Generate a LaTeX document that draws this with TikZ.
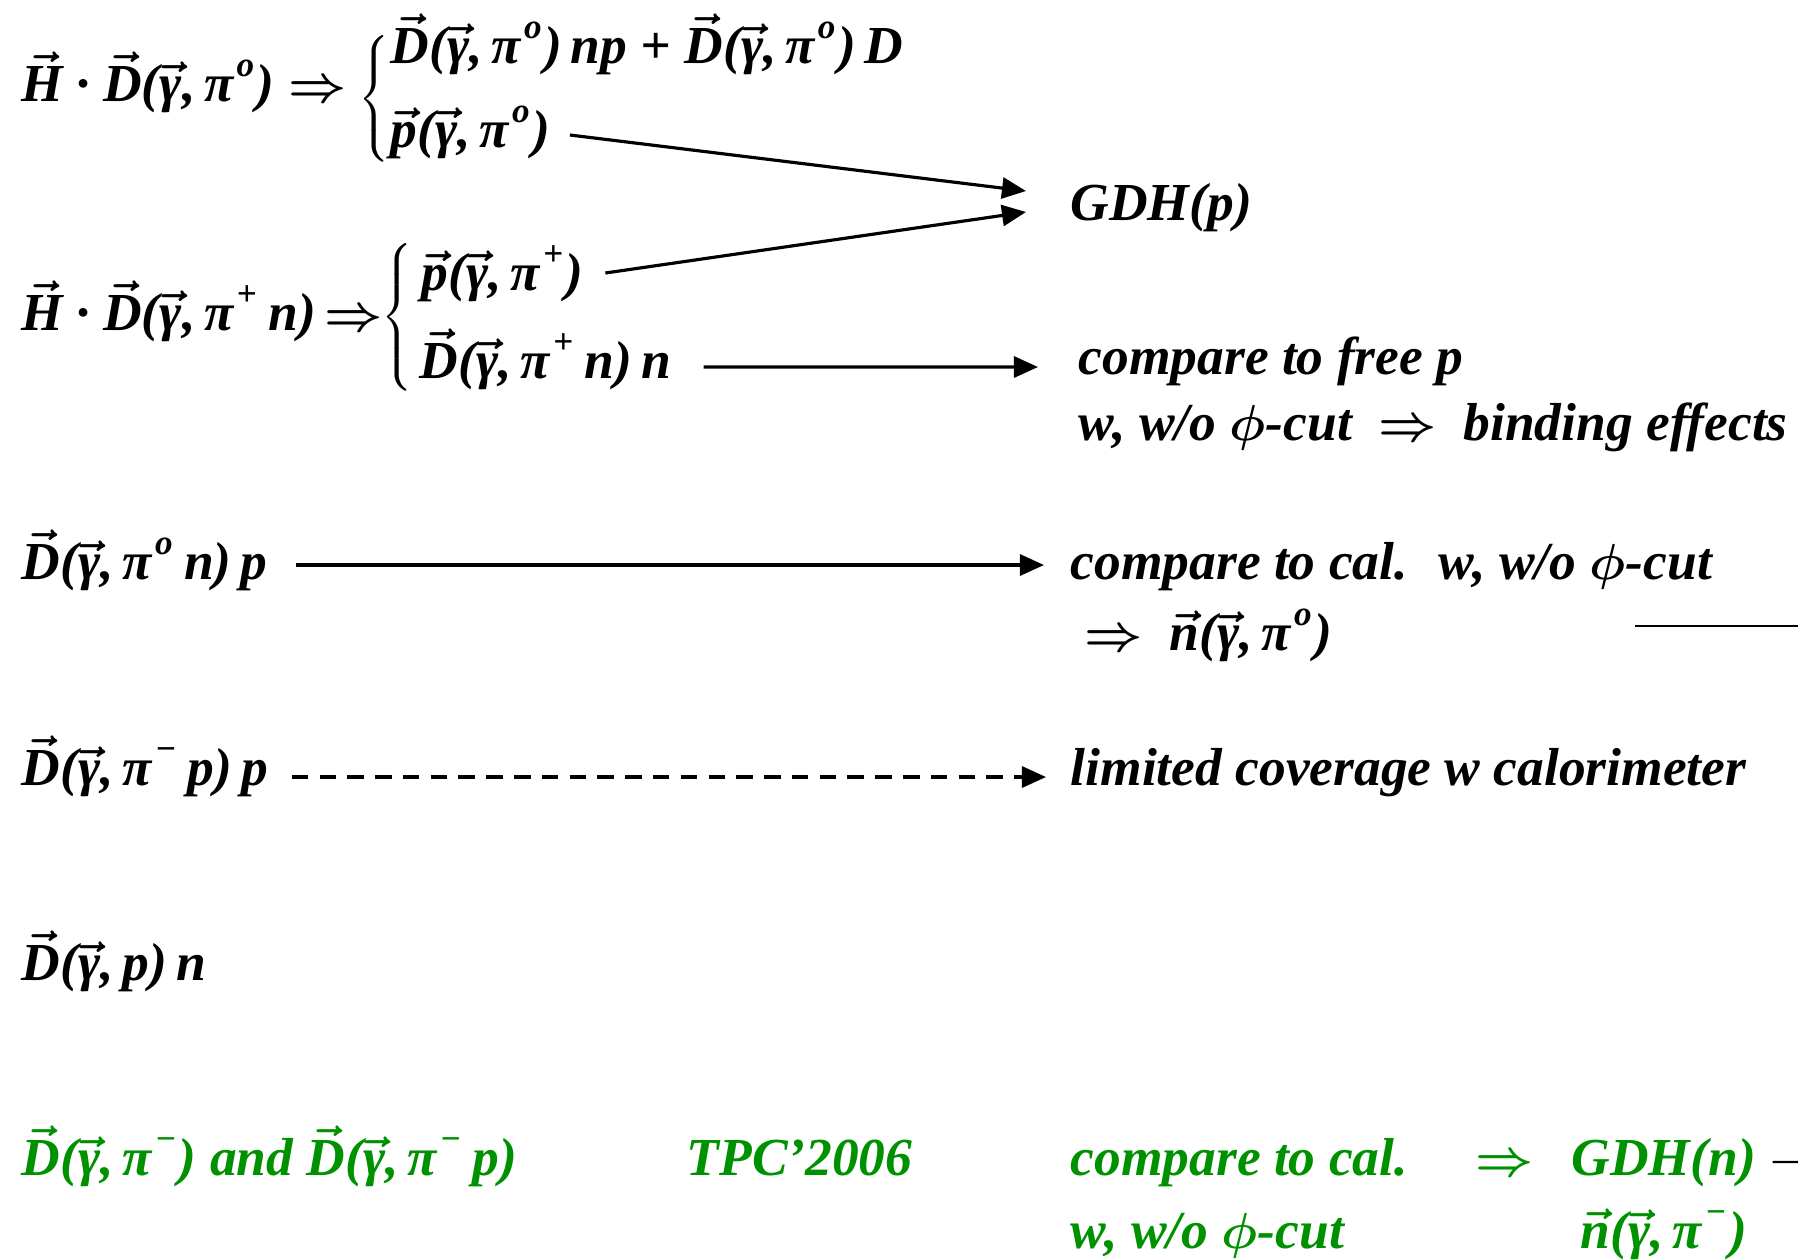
\documentclass[tikz,border=0pt]{standalone}
\usepackage{fontspec}
\setmainfont{Liberation Serif}
\usetikzlibrary{arrows.meta}
\definecolor{gdhgreen}{RGB}{0,145,0}
\newcommand{\vecl}[1]{\ensuremath{\vec{\mbox{#1}}}}
\newcommand{\upx}[1]{\kern0.06em\raisebox{0.46em}{\fontsize{10}{12}\selectfont #1}\kern0.05em}

\begin{document}
\begin{tikzpicture}[x=0.01cm, y=-0.01cm,
  txt/.style={anchor=base west, inner sep=0pt, font=\fontsize{15.2}{18}\selectfont\bfseries\itshape\boldmath},
  gtxt/.style={txt, text=gdhgreen},
  brace/.style={inner sep=0pt},
  arrow/.style={-{Triangle[length=2.4mm, width=2.1mm]}, line width=0.9pt},
  cut/.style={line width=0.6pt}
]
  \useasboundingbox (0,0) rectangle (1798,1259);

  % Polarised H.D, pi zero
  \node[txt] (hd0) at (21,101) {\vecl{H} · \vecl{D}(\vecl{γ},\,π\upx{o}) $\Rightarrow$};
  \node[brace] (br0) at (376,99) {$\left\{\vcenter{\hrule height 0.67cm depth 0.67cm width 0pt}\right.$};
  \node[txt] (dnp) at (390,63) {\vecl{D}(\vecl{γ},\,π\upx{o})\,np + \vecl{D}(\vecl{γ},\,π\upx{o})\,D};
  \node[txt] (p0) at (390,147) {\vecl{p}(\vecl{γ},\,π\upx{o})};
  \node[txt] (gdhp) at (1070,220) {GDH(p)};

  % Polarised H.D, pi plus
  \node[txt] (hd1) at (21,330) {\vecl{H} · \vecl{D}(\vecl{γ},\,π\upx{+}\,n)\,$\Rightarrow$};
  \node[brace] (br1) at (399,317) {$\left\{\vcenter{\hrule height 0.8cm depth 0.8cm width 0pt}\right.$};
  \node[txt] (pp) at (421,290) {\vecl{p}(\vecl{γ},\,π\upx{+})};
  \node[txt] (dpn) at (419,378) {\vecl{D}(\vecl{γ},\,π\upx{+}\,n)\,n};
  \node[txt] (free) at (1078,374) {compare to free p};
  \node[txt] (bind) at (1078,440) {w, w/o $\phi$-cut \ $\Rightarrow$ \ binding effects};

  % Deuteron channels
  \node[txt] (d0n) at (21,579) {\vecl{D}(\vecl{γ},\,π\upx{o}\,n)\,p};
  \node[txt] (cal0) at (1070,579) {compare to cal. \ w, w/o $\phi$-cut};
  \node[txt] (n0) at (1084,650) {$\Rightarrow$ \ \vecl{n}(\vecl{γ},\,π\upx{o})};
  \node[txt] (dmp) at (21,785) {\vecl{D}(\vecl{γ},\,π\upx{−}\,p)\,p};
  \node[txt] (lim) at (1070,785) {limited coverage w calorimeter};
  \node[txt] (dpn2) at (21,980) {\vecl{D}(\vecl{γ},\,p)\,n};

  % TPC 2006
  \node[gtxt] (gdm) at (21,1175) {\vecl{D}(\vecl{γ},\,π\upx{−}) and \vecl{D}(\vecl{γ},\,π\upx{−}\,p)};
  \node[gtxt] (tpc) at (686,1175) {TPC’2006};
  \node[gtxt] (calg) at (1070,1175) {compare to cal.};
  \node[gtxt] (impl) at (1475,1175) {$\Rightarrow$};
  \node[gtxt] (gdhn) at (1571,1175) {GDH(n)};
  \node[gtxt] (wwo) at (1070,1248) {w, w/o $\phi$-cut};
  \node[gtxt] (nm) at (1580,1248) {\vecl{n}(\vecl{γ},\,π\upx{−})};

  % Arrows
  \draw[arrow] ([xshift=1.9mm, yshift=1.2mm]p0.base east) -- ([xshift=-4.4mm, yshift=2.9mm]gdhp.base west);
  \draw[arrow] ([xshift=2.1mm, yshift=1.7mm]pp.base east) -- ([xshift=-4.4mm, yshift=0.8mm]gdhp.base west);
  \draw[arrow] ([xshift=3.2mm, yshift=1.1mm]dpn.base east) -- ([xshift=-4mm, yshift=0.7mm]free.base west);
  \draw[arrow] ([xshift=2.8mm, yshift=1.4mm]d0n.base east) -- ([xshift=-2.6mm, yshift=1.4mm]cal0.base west);
  \draw[arrow, dash pattern=on 4.7pt off 3.2pt] ([xshift=2.3mm, yshift=0.8mm]dmp.base east) -- ([xshift=-2.4mm, yshift=0.8mm]lim.base west);

  % Lines running off the page
  \coordinate (cut0) at (1635,626);
  \coordinate (edge0) at (1798,626);
  \coordinate (edge1) at (1798,1162);
  \draw[cut] (cut0) -- (edge0);
  \draw[cut] ([xshift=1.6mm, yshift=1.3mm]gdhn.base east) -- (edge1);
\end{tikzpicture}
\end{document}
